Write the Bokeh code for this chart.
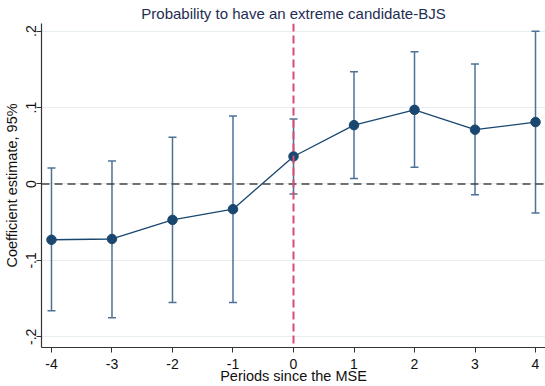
from bokeh.plotting import figure
from bokeh.models import ColumnDataSource, Whisker, Span, FixedTicker, TeeHead, Range1d
from bokeh.embed import file_html
from bokeh.resources import INLINE

periods = [-4, -3, -2, -1, 0, 1, 2, 3, 4]
coef = [-0.073, -0.072, -0.047, -0.033, 0.036, 0.077, 0.097, 0.071, 0.081]
lower = [-0.166, -0.175, -0.155, -0.155, -0.013, 0.007, 0.022, -0.014, -0.038]
upper = [0.021, 0.030, 0.061, 0.089, 0.085, 0.147, 0.173, 0.157, 0.200]
y_ticks = [-0.2, -0.1, 0, 0.1, 0.2]
y_tick_labels = ["-.2", "-.1", "0", ".1", ".2"]
x_ticks = [-4, -3, -2, -1, 0, 1, 2, 3, 4]

FONT = "Liberation Sans"
NAVY = "#1a476f"
BAR = "#4d7296"

src = ColumnDataSource(dict(x=periods, y=coef, lo=lower, hi=upper))

p = figure(width=545, height=386, output_backend="svg", toolbar_location=None,
           x_range=Range1d(-4.165, 4.165), y_range=Range1d(-0.214, 0.210),
           min_border_left=41, min_border_right=0, min_border_top=21, min_border_bottom=37,
           title="Probability to have an extreme candidate-BJS")
p.outline_line_color = None
p.background_fill_color = "white"
p.border_fill_color = "white"

p.title.text_font = FONT
p.title.text_font_size = "15px"
p.title.text_font_style = "normal"
p.title.text_color = "#1e2d53"
p.title.align = "center"
p.title.standoff = 4
p.title.offset = 0

# grid
p.xgrid.grid_line_color = None
p.ygrid.grid_line_color = "#e6eef1"
p.ygrid.grid_line_width = 1
p.yaxis.ticker = FixedTicker(ticks=y_ticks)
p.xaxis.ticker = FixedTicker(ticks=x_ticks)
p.yaxis.major_label_overrides = {t: l for t, l in zip(y_ticks, y_tick_labels)}
p.xaxis.major_label_overrides = {t: str(t) for t in x_ticks}
p.yaxis.major_label_orientation = "vertical"

for ax in (p.xaxis, p.yaxis):
    ax.axis_line_color = "#333333"
    ax.axis_line_width = 1.2
    ax.major_tick_line_color = "#333333"
    ax.major_tick_in = 0
    ax.major_tick_out = 5
    ax.minor_tick_line_color = None
    ax.major_label_text_font = FONT
    ax.major_label_text_font_size = "14px"
    ax.major_label_text_color = "#111111"
    ax.axis_label_text_font = FONT
    ax.axis_label_text_font_size = "14.5px"
    ax.axis_label_text_font_style = "normal"
    ax.axis_label_text_color = "#111111"

p.xaxis.axis_label = "Periods since the MSE"
p.yaxis.axis_label = "Coefficient estimate, 95%"
p.xaxis.major_label_standoff = 6
p.xaxis.axis_label_standoff = -4
p.yaxis.major_label_standoff = 0
p.yaxis.axis_label_standoff = 4

p.add_layout(Span(location=0, dimension="width", line_color="#444444",
                  line_width=1.5, line_dash="8 5"))
p.add_layout(Span(location=0, dimension="height", line_color="#d84a77",
                  line_width=2, line_dash="8 4"))

w = Whisker(source=src, base="x", lower="lo", upper="hi",
            line_color=BAR, line_width=1.5,
            upper_head=TeeHead(size=8, line_color=BAR, line_width=1.5),
            lower_head=TeeHead(size=8, line_color=BAR, line_width=1.5))
p.add_layout(w)

p.line("x", "y", source=src, line_color=NAVY, line_width=1.3)
p.scatter("x", "y", source=src, size=9.5, fill_color=NAVY, line_color=NAVY)

open("out.html", "w").write(file_html(p, INLINE))
